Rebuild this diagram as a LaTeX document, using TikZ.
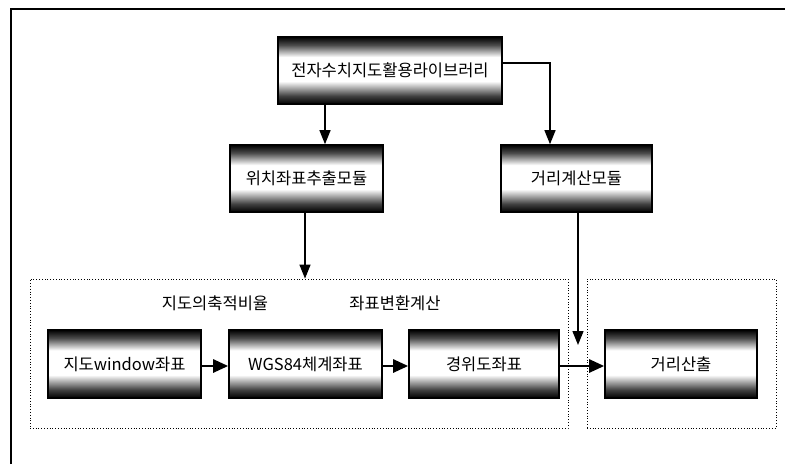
\documentclass[tikz,border=0pt]{standalone}
\usepackage{fontspec}
\setmainfont{Noto Sans CJK KR}
\usetikzlibrary{arrows.meta}

\pgfdeclareverticalshading{boxshade}{100bp}{color(0bp)=(black); color(25bp)=(black);
  color(31bp)=(black!75); color(42bp)=(white); color(60bp)=(white);
  color(69bp)=(black!70); color(75bp)=(black); color(100bp)=(black)}

\begin{document}
\begin{tikzpicture}[x=1pt,y=-1pt,
    modbox/.style={draw=black, line width=1.6pt, shading=boxshade, inner sep=0pt,
      font=\fontsize{16.5}{19}\selectfont},
    grpbox/.style={draw=black, dotted, line width=0.8pt, inner sep=0pt},
    grplabel/.style={font=\fontsize{16.5}{19}\selectfont},
    arr/.style={-{Triangle[length=14pt,width=11pt]}, line width=1.3pt},
    harr/.style={-{Triangle[length=15pt,width=13pt]}, line width=2.6pt}]
  \useasboundingbox (0,0) rectangle (785,464);
  % outer frame
  \draw [line width=1.2pt] (11,464) -- (11,9) -- (785,9);

  % groups
  \node [grpbox, minimum width=538pt, minimum height=149pt] (grpA) at (299,353.5) {};
  \node [grpbox, minimum width=189pt, minimum height=149pt] (grpB) at (681.5,353.5) {};
  \node [grplabel] (scale) at (215,303) {지도의축적비율};
  \node [grplabel] (conv) at (395,303) {좌표변환계산};

  % modules
  \node [modbox, minimum width=224pt, minimum height=67pt] (lib) at (390,70.5) {전자수치지도활용라이브러리};
  \node [modbox, minimum width=153pt, minimum height=67pt] (pos) at (306.5,178.5) {위치좌표추출모듈};
  \node [modbox, minimum width=151pt, minimum height=67pt] (dist) at (576.5,178.5) {거리계산모듈};

  \node [modbox, minimum width=153pt, minimum height=68pt] (win) at (124.5,364) {지도window좌표};
  \node [modbox, minimum width=153pt, minimum height=68pt] (wgs) at (305.5,364) {WGS84체계좌표};
  \node [modbox, minimum width=150pt, minimum height=68pt] (geo) at (484,364) {경위도좌표};
  \node [modbox, minimum width=152pt, minimum height=68pt] (out) at (681,364) {거리산출};

  % connectors
  \draw [arr] ([xshift=-65pt]lib.south) -- ([xshift=-65pt]lib.south |- pos.north);
  \draw [arr] ([yshift=7.5pt]lib.east) -| ([xshift=-26.5pt]dist.north);
  \draw [arr] ([xshift=-1.5pt]pos.south) -- ([xshift=-1.5pt]pos.south |- grpA.north);
  \coordinate (drop) at (578,345);
  \draw [arr] (dist.south -| drop) -- (drop);

  \draw [harr] ([yshift=-2pt]win.east) -- ([yshift=-2pt]wgs.west);
  \draw [harr] ([yshift=-2pt]wgs.east) -- ([yshift=-2pt]geo.west);
  \draw [harr] ([yshift=-2pt]geo.east) -- ([yshift=-2pt]out.west);
\end{tikzpicture}
\end{document}
